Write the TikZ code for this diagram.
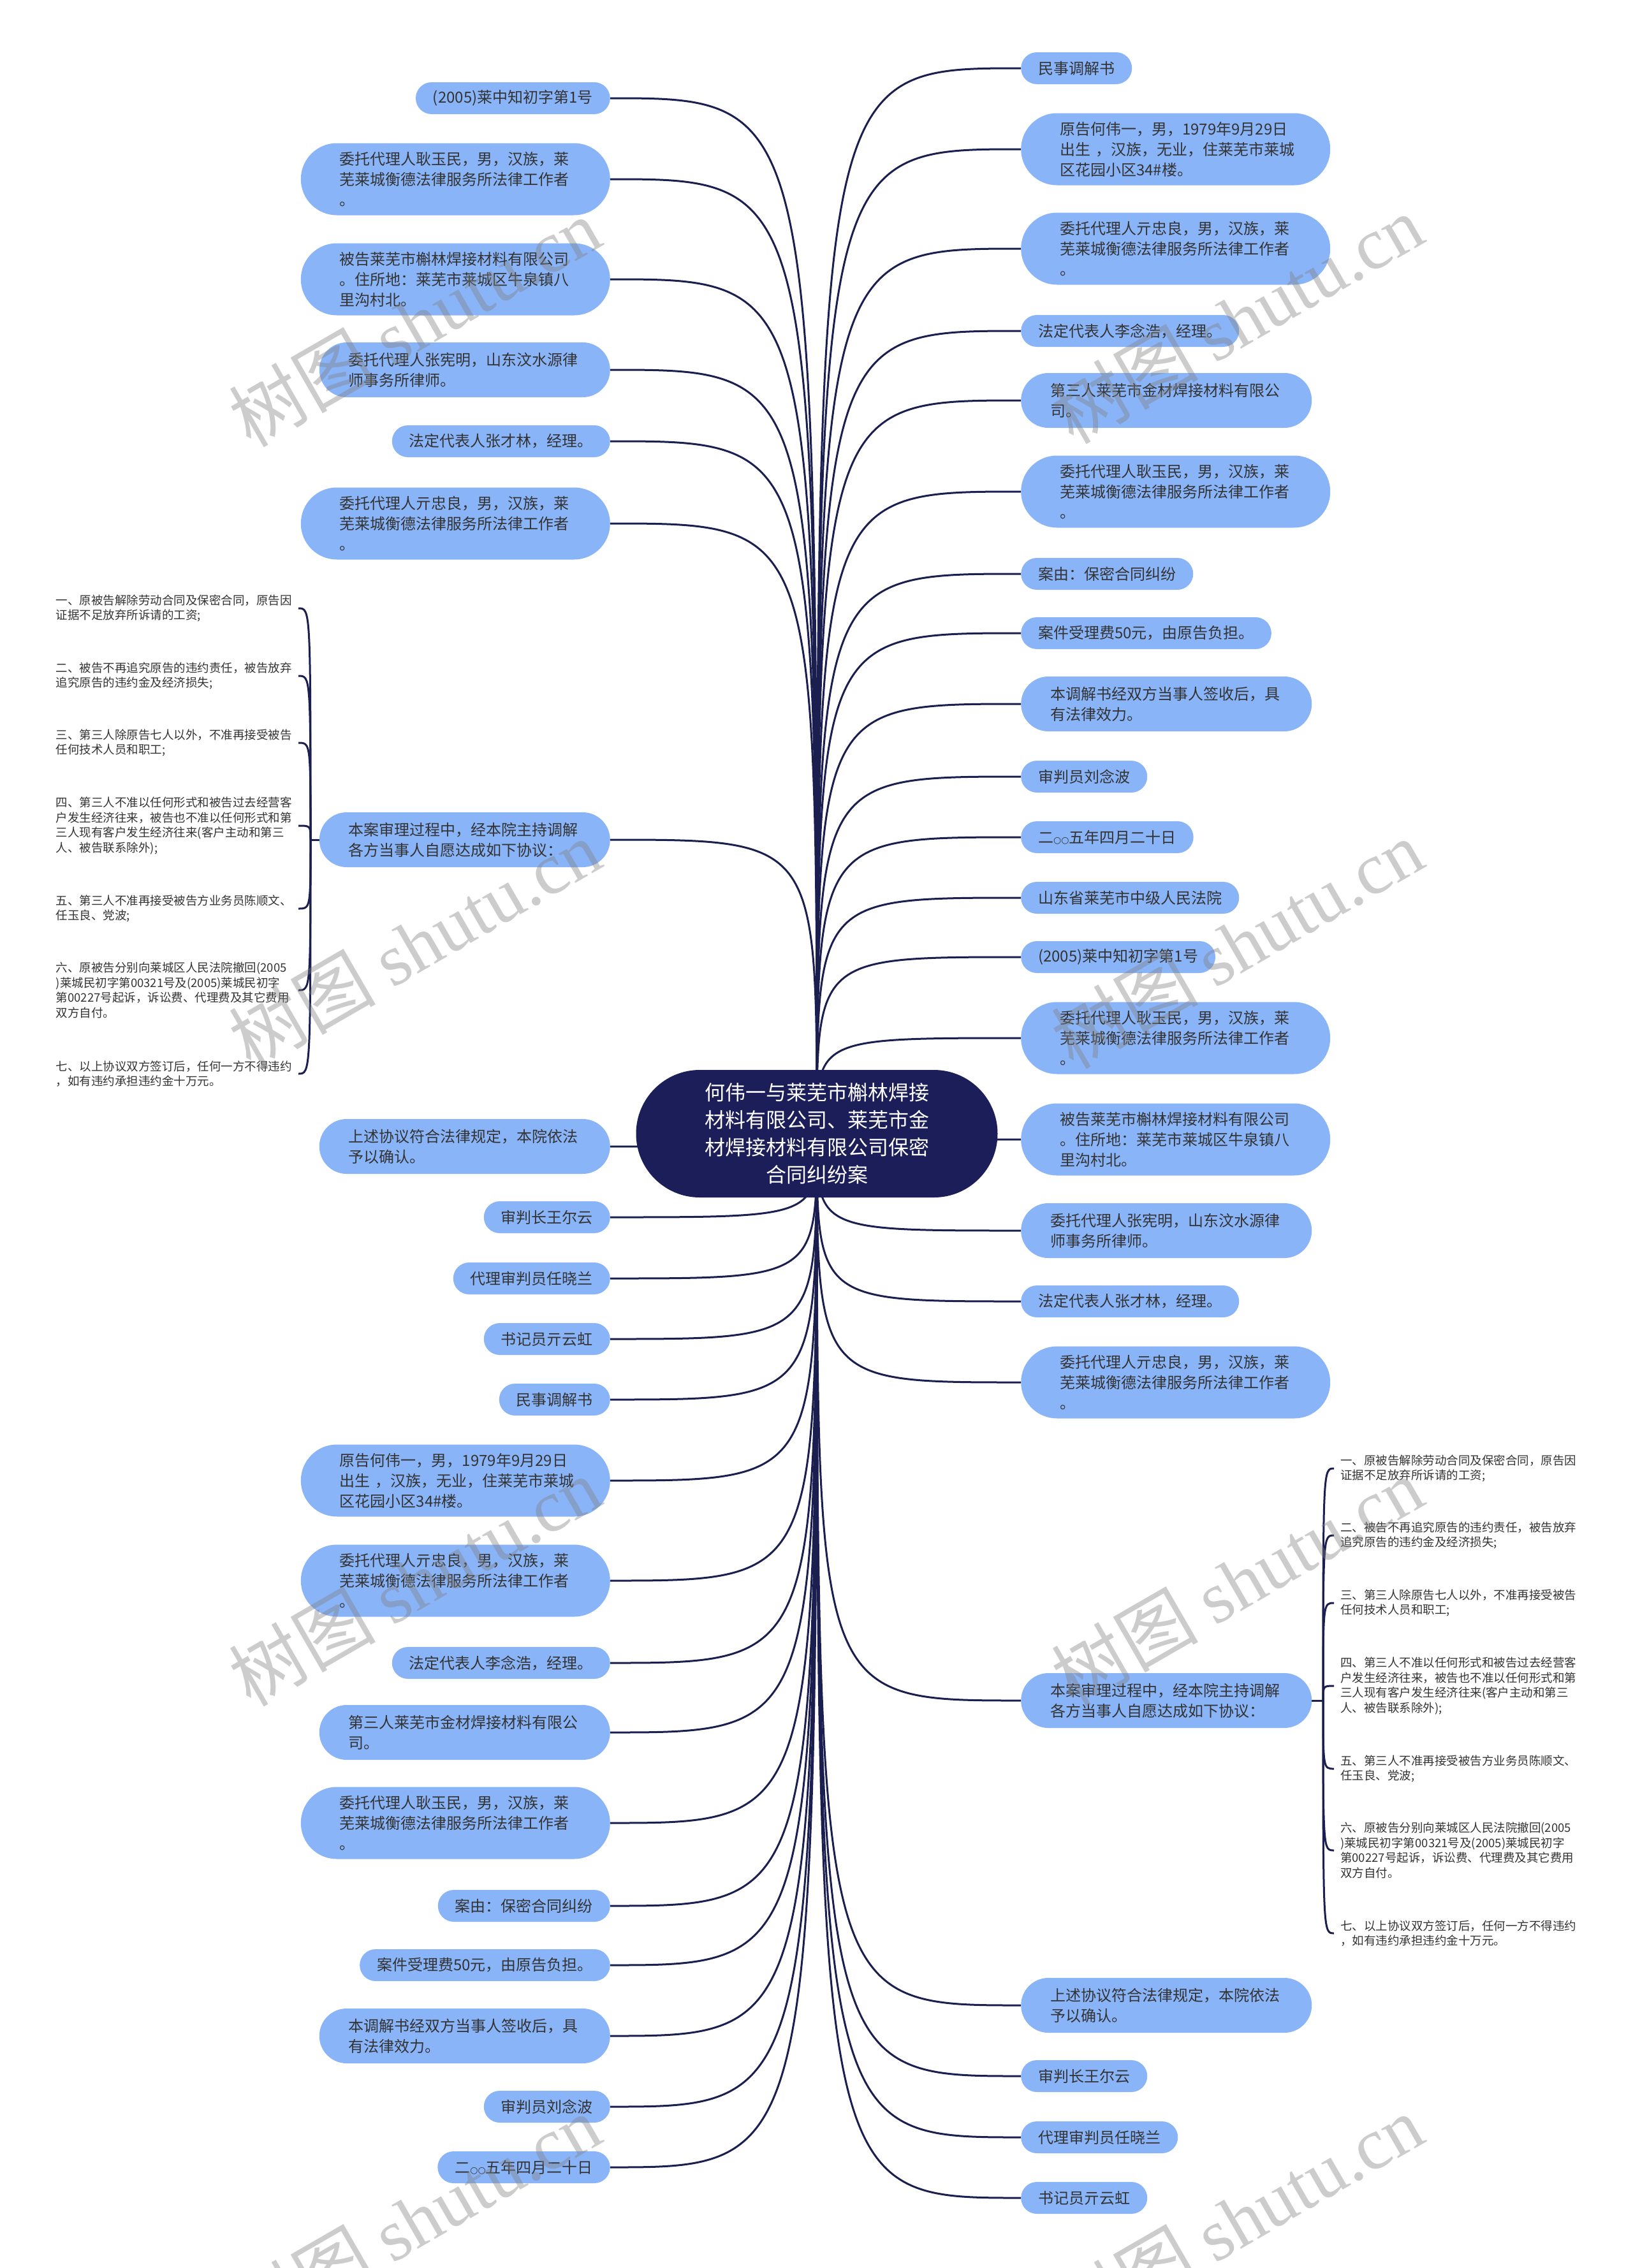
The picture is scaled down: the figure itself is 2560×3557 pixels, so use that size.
\documentclass[tikz,border=0pt]{standalone}
\usepackage{fontspec}
\setmainfont{Noto Sans CJK SC}
\newfontfamily\wmserif{Liberation Serif}
\newfontfamily\dejavu{DejaVu Sans}
\usetikzlibrary{backgrounds}
\definecolor{leafblue}{HTML}{8AB4F8}
\definecolor{rootnavy}{HTML}{1C1E5A}
\definecolor{linknavy}{HTML}{1B1F4F}
\definecolor{txtgray}{HTML}{333333}
\newcommand{\smallcirc}{{\dejavu\fontsize{14}{14}\selectfont ○○}}
\begin{document}
\begin{tikzpicture}[x=1pt,y=-1pt,
  leafone/.style={rectangle, fill=leafblue, text=txtgray, font=\fontsize{24}{32}\selectfont,
    minimum height=50pt, rounded corners=24.9pt, inner xsep=27pt, inner ysep=0pt},
  leaftwo/.style={rectangle, fill=leafblue, text=txtgray, font=\fontsize{24}{32}\selectfont,
    minimum height=86pt, rounded corners=42.9pt, inner xsep=46pt, inner ysep=0pt,
    text width=364pt, align=left},
  leafthree/.style={rectangle, fill=leafblue, text=txtgray, font=\fontsize{24}{32}\selectfont,
    minimum height=113pt, rounded corners=56.4pt, inner xsep=61pt, inner ysep=0pt,
    text width=363pt, align=left},
  rootbox/.style={rectangle, fill=rootnavy, text=white, font=\fontsize{32}{43}\selectfont,
    minimum width=567pt, minimum height=200pt, rounded corners=99.9pt, inner sep=0pt, align=center},
  itembox/.style={text=txtgray, font=\fontsize{18.5}{23.5}\selectfont, inner xsep=10pt,
    inner ysep=0pt, text width=370pt, align=left},
  link/.style={draw=linknavy, line width=3pt},
  wm/.style={text=gray, opacity=0.4, rotate=30, font=\fontsize{115}{115}\selectfont, inner sep=0pt}
]
\useasboundingbox (0,0) rectangle (2560,3557);

% root
\node[rootbox] (root) at (1281,1778) {何伟一与莱芜市槲林焊接\\材料有限公司、莱芜市金\\材焊接材料有限公司保密\\合同纠纷案};

% right column
\begin{scope}[every node/.append style={anchor=west}]
\node[leafone]   (R1)  at (1601,107)  {民事调解书};
\node[leafthree] (R2)  at (1601,234)  {原告何伟一，男，1979年9月29日\\出生~，汉族，无业，住莱芜市莱城\\区花园小区34\#楼。};
\node[leafthree] (R3)  at (1601,390)  {委托代理人亓忠良，男，汉族，莱\\芜莱城衡德法律服务所法律工作者\\。};
\node[leafone]   (R4)  at (1601,519)  {法定代表人李念浩，经理。};
\node[leaftwo]   (R5)  at (1601,628)  {第三人莱芜市金材焊接材料有限公\\司。};
\node[leafthree] (R6)  at (1601,771)  {委托代理人耿玉民，男，汉族，莱\\芜莱城衡德法律服务所法律工作者\\。};
\node[leafone]   (R7)  at (1601,900)  {案由：保密合同纠纷};
\node[leafone]   (R8)  at (1601,993)  {案件受理费50元，由原告负担。};
\node[leaftwo]   (R9)  at (1601,1104) {本调解书经双方当事人签收后，具\\有法律效力。};
\node[leafone]   (R10) at (1601,1218) {审判员刘念波};
\node[leafone]   (R11) at (1601,1313) {二\smallcirc 五年四月二十日};
\node[leafone]   (R12) at (1601,1408) {山东省莱芜市中级人民法院};
\node[leafone]   (R13) at (1601,1501) {(2005)莱中知初字第1号};
\node[leafthree] (R14) at (1601,1628) {委托代理人耿玉民，男，汉族，莱\\芜莱城衡德法律服务所法律工作者\\。};
\node[leafthree] (R15) at (1601,1787) {被告莱芜市槲林焊接材料有限公司\\。住所地：莱芜市莱城区牛泉镇八\\里沟村北。};
\node[leaftwo]   (R16) at (1601,1930) {委托代理人张宪明，山东汶水源律\\师事务所律师。};
\node[leafone]   (R17) at (1601,2041) {法定代表人张才林，经理。};
\node[leafthree] (R18) at (1601,2168) {委托代理人亓忠良，男，汉族，莱\\芜莱城衡德法律服务所法律工作者\\。};
\node[leaftwo]   (R19) at (1601,2667) {本案审理过程中，经本院主持调解\\各方当事人自愿达成如下协议：};
\node[leaftwo]   (R20) at (1601,3145) {上述协议符合法律规定，本院依法\\予以确认。};
\node[leafone]   (R21) at (1601,3256) {审判长王尔云};
\node[leafone]   (R22) at (1601,3352) {代理审判员任晓兰};
\node[leafone]   (R23) at (1601,3447) {书记员亓云虹};
% right sub-items
\node[itembox] (Ra1) at (2092,2303) {一、原被告解除劳动合同及保密合同，原告因\\证据不足放弃所诉请的工资;};
\node[itembox] (Ra2) at (2092,2408) {二、被告不再追究原告的违约责任，被告放弃\\追究原告的违约金及经济损失;};
\node[itembox] (Ra3) at (2092,2514) {三、第三人除原告七人以外，不准再接受被告\\任何技术人员和职工;};
\node[itembox] (Ra4) at (2092,2644) {四、第三人不准以任何形式和被告过去经营客\\户发生经济往来，被告也不准以任何形式和第\\三人现有客户发生经济往来(客户主动和第三\\人、被告联系除外);};
\node[itembox] (Ra5) at (2092,2774) {五、第三人不准再接受被告方业务员陈顺文、\\任玉良、党波;};
\node[itembox] (Ra6) at (2092,2902) {六、原被告分别向莱城区人民法院撤回(2005\\)莱城民初字第00321号及(2005)莱城民初字\\第00227号起诉，诉讼费、代理费及其它费用\\双方自付。};
\node[itembox] (Ra7) at (2092,3032) {七、以上协议双方签订后，任何一方不得违约\\，如有违约承担违约金十万元。};
\end{scope}

% left column
\begin{scope}[every node/.append style={anchor=east}]
\node[leafone]   (L1)  at (957,154)  {(2005)莱中知初字第1号};
\node[leafthree] (L2)  at (957,281)  {委托代理人耿玉民，男，汉族，莱\\芜莱城衡德法律服务所法律工作者\\。};
\node[leafthree] (L3)  at (957,438)  {被告莱芜市槲林焊接材料有限公司\\。住所地：莱芜市莱城区牛泉镇八\\里沟村北。};
\node[leaftwo]   (L4)  at (957,580)  {委托代理人张宪明，山东汶水源律\\师事务所律师。};
\node[leafone]   (L5)  at (957,692)  {法定代表人张才林，经理。};
\node[leafthree] (L6)  at (957,821)  {委托代理人亓忠良，男，汉族，莱\\芜莱城衡德法律服务所法律工作者\\。};
\node[leaftwo]   (L7)  at (957,1317) {本案审理过程中，经本院主持调解\\各方当事人自愿达成如下协议：};
\node[leaftwo]   (L8)  at (957,1798) {上述协议符合法律规定，本院依法\\予以确认。};
\node[leafone]   (L9)  at (957,1909) {审判长王尔云};
\node[leafone]   (L10) at (957,2005) {代理审判员任晓兰};
\node[leafone]   (L11) at (957,2100) {书记员亓云虹};
\node[leafone]   (L12) at (957,2195) {民事调解书};
\node[leafthree] (L13) at (957,2322) {原告何伟一，男，1979年9月29日\\出生~，汉族，无业，住莱芜市莱城\\区花园小区34\#楼。};
\node[leafthree] (L14) at (957,2479) {委托代理人亓忠良，男，汉族，莱\\芜莱城衡德法律服务所法律工作者\\。};
\node[leafone]   (L15) at (957,2608) {法定代表人李念浩，经理。};
\node[leaftwo]   (L16) at (957,2717) {第三人莱芜市金材焊接材料有限公\\司。};
\node[leafthree] (L17) at (957,2859) {委托代理人耿玉民，男，汉族，莱\\芜莱城衡德法律服务所法律工作者\\。};
\node[leafone]   (L18) at (957,2989) {案由：保密合同纠纷};
\node[leafone]   (L19) at (957,3082) {案件受理费50元，由原告负担。};
\node[leaftwo]   (L20) at (957,3193) {本调解书经双方当事人签收后，具\\有法律效力。};
\node[leafone]   (L21) at (957,3304) {审判员刘念波};
\node[leafone]   (L22) at (957,3399) {二\smallcirc 五年四月二十日};
% left sub-items
\node[itembox] (La1) at (468,954)  {一、原被告解除劳动合同及保密合同，原告因\\证据不足放弃所诉请的工资;};
\node[itembox] (La2) at (468,1060) {二、被告不再追究原告的违约责任，被告放弃\\追究原告的违约金及经济损失;};
\node[itembox] (La3) at (468,1165) {三、第三人除原告七人以外，不准再接受被告\\任何技术人员和职工;};
\node[itembox] (La4) at (468,1295) {四、第三人不准以任何形式和被告过去经营客\\户发生经济往来，被告也不准以任何形式和第\\三人现有客户发生经济往来(客户主动和第三\\人、被告联系除外);};
\node[itembox] (La5) at (468,1425) {五、第三人不准再接受被告方业务员陈顺文、\\任玉良、党波;};
\node[itembox] (La6) at (468,1553) {六、原被告分别向莱城区人民法院撤回(2005\\)莱城民初字第00321号及(2005)莱城民初字\\第00227号起诉，诉讼费、代理费及其它费用\\双方自付。};
\node[itembox] (La7) at (468,1684) {七、以上协议双方签订后，任何一方不得违约\\，如有违约承担违约金十万元。};
\end{scope}

\coordinate (L7t) at (487,1317);
\coordinate (R19t) at (2075,2667);

\begin{pgfonlayer}{background}
\fill[white] (0,0) rectangle (2560,3557);
\foreach \i in {1,...,23} {
  \draw[link] (root.center) .. controls (root.center |- R\i.west) .. (R\i.west);
}
\foreach \i in {1,...,22} {
  \draw[link] (root.center) .. controls (root.center |- L\i.east) .. (L\i.east);
}
\draw[link] (L7.west) -- (L7t);
\foreach \i in {1,...,7} {
  \draw[link] (L7t) .. controls (L7t |- La\i.east) .. (La\i.east);
}
\draw[link] (R19.east) -- (R19t);
\foreach \i in {1,...,7} {
  \draw[link] (R19t) .. controls (R19t |- Ra\i.west) .. (Ra\i.west);
}
\end{pgfonlayer}

% watermarks
\node[wm] (wm1) at (650,505)   {树图 {\wmserif shutu.cn}};
\node[wm] (wm2) at (650,1480)  {树图 {\wmserif shutu.cn}};
\node[wm] (wm3) at (650,2480)  {树图 {\wmserif shutu.cn}};
\node[wm] (wm4) at (650,3480)  {树图 {\wmserif shutu.cn}};
\node[wm] (wm5) at (1940,500)  {树图 {\wmserif shutu.cn}};
\node[wm] (wm6) at (1940,1480) {树图 {\wmserif shutu.cn}};
\node[wm] (wm7) at (1940,2480) {树图 {\wmserif shutu.cn}};
\node[wm] (wm8) at (1940,3480) {树图 {\wmserif shutu.cn}};
\end{tikzpicture}
\end{document}
